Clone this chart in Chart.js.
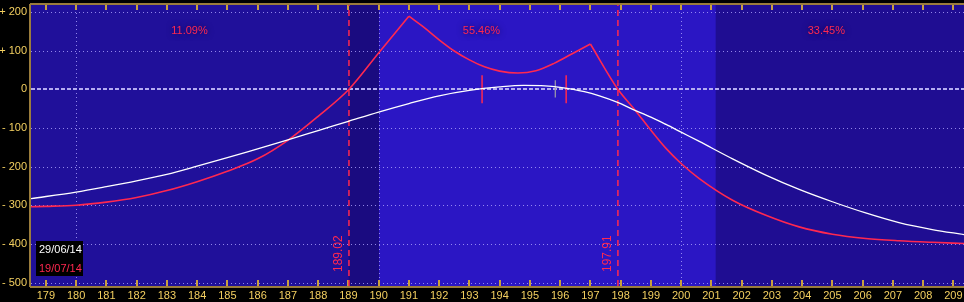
<!DOCTYPE html>
<html>
<head>
<meta charset="utf-8">
<script src="https://cdn.jsdelivr.net/npm/chart.js@4.4.1/dist/chart.umd.min.js"></script>
<style>
  html, body { margin: 0; padding: 0; background: #000; }
  #wrap { width: 964px; height: 302px; }
</style>
</head>
<body>
<div id="wrap"><canvas id="chart" width="964" height="302"></canvas></div>
<script>
// P&L at expiry (19/07/14), split at the two kinks so the peaks stay sharp
const expiryLeftPrice = [178.51, 179, 180, 181, 182, 183, 184, 185, 186, 187, 188, 189.02, 190, 191]
const expiryLeftPnl = [-304, -303, -300, -292, -280, -262, -239, -212, -180, -132, -70, 0, 94, 189]
const expiryMidPrice = [191, 191.5, 192, 192.5, 193, 193.5, 194, 194.6, 195.2, 195.8, 196.4, 197]
const expiryMidPnl = [189, 160, 128, 99, 76, 58, 47, 42, 48, 67, 92, 117]
const expiryRightPrice = [197, 197.91, 198.5, 199, 199.5, 200, 200.6, 201.7, 202.8, 203.9, 205, 206.1, 207.2, 208.3, 209.35]
const expiryRightPnl = [117, 0, -56, -106, -153, -192, -231, -287, -326, -356, -375, -386, -392, -396, -399]

// P&L today (29/06/14)
const todayPrice = [178.51, 180, 181, 182, 183, 184, 185, 186, 187, 188, 189, 190, 191, 192, 193,
  194, 194.8, 195.5, 196, 196.8, 197.3, 197.9, 198.4, 199, 199.5, 200, 200.6, 201.7, 202.8,
  203.9, 205, 206.1, 207.2, 208.3, 209.35]
const todayPnl = [-283, -266, -252, -237, -220, -199, -177, -154, -131, -107, -83, -59, -37, -17, -3,
  6, 10, 9, 5, -6, -17, -34, -52, -72, -91, -111, -135, -180, -222,
  -259, -291, -320, -345, -363, -376]

const breakevens = [189.02, 197.91]
const zoneLabels = ['11.09%', '55.46%', '33.45%']
const zoneLabelX = [183.75, 193.4, 204.8]
const shortStrikes = [193.42, 196.2]
const spotPrice = 195.84
const dateLabels = ['29/06/14', '19/07/14']

const xTicks = [179, 180, 181, 182, 183, 184, 185, 186, 187, 188, 189, 190, 191, 192, 193, 194,
  195, 196, 197, 198, 199, 200, 201, 202, 203, 204, 205, 206, 207, 208, 209]
const yTicks = [200, 100, 0, -100, -200, -300, -400, -500]
const xGridLines = [180, 190, 200]

const xMin = 178.51, xMax = 209.35, yMin = -509, yMax = 218

const RED = '#ff2850'
const GOLD = '#c8a040'

const toPoints = (xs, ys) => xs.map((x, i) => ({ x, y: ys[i] }))
const vLine = (x, lo, hi) => [{ x, y: lo }, { x, y: hi }]

// background zones: [from, to, colour]
const zones = [
  [xMin, 189.02, '#20109a'],
  [189.02, 190, '#1a0b80'],
  [190, 201.15, '#2b16c4'],
  [201.15, xMax, '#1f0d92']
]

const backdrop = {
  id: 'backdrop',
  beforeDraw(chart) {
    const { ctx, chartArea: a, scales: { x } } = chart
    ctx.save()
    ctx.fillStyle = '#000'
    ctx.fillRect(0, 0, chart.width, chart.height)
    zones.forEach(([from, to, color]) => {
      const l = x.getPixelForValue(from), r = x.getPixelForValue(to)
      ctx.fillStyle = color
      ctx.fillRect(l, a.top, r - l, a.bottom - a.top)
    })
    ctx.restore()
  },
  beforeDatasetsDraw(chart) {
    const { ctx, chartArea: a, scales: { x, y } } = chart
    ctx.save()
    ctx.lineWidth = 1
    ctx.strokeStyle = 'rgba(175,165,255,0.8)'
    ctx.setLineDash([1, 3])
    yTicks.filter(v => v !== 0).forEach(v => {
      const py = Math.round(y.getPixelForValue(v)) + 0.5
      ctx.beginPath(); ctx.moveTo(a.left, py); ctx.lineTo(a.right, py); ctx.stroke()
    })
    xGridLines.forEach(v => {
      const px = Math.round(x.getPixelForValue(v)) + 0.5
      ctx.beginPath(); ctx.moveTo(px, a.top); ctx.lineTo(px, a.bottom); ctx.stroke()
    })
    // zero line
    ctx.strokeStyle = '#b4acf0'
    ctx.lineWidth = 2
    ctx.setLineDash([4, 2])
    const y0 = Math.round(y.getPixelForValue(0))
    ctx.beginPath(); ctx.moveTo(a.left, y0); ctx.lineTo(a.right, y0); ctx.stroke()

    // frame and gold ticks
    ctx.setLineDash([])
    ctx.strokeStyle = '#9a7c3c'
    ctx.lineWidth = 2
    ctx.beginPath()
    ctx.moveTo(a.left - 1, a.top - 1); ctx.lineTo(a.right, a.top - 1)
    ctx.moveTo(a.left - 1, a.top - 1); ctx.lineTo(a.left - 1, a.bottom + 1)
    ctx.moveTo(a.left - 1, a.bottom + 1); ctx.lineTo(a.right, a.bottom + 1)
    ctx.stroke()
    ctx.strokeStyle = GOLD
    xTicks.forEach(v => {
      const px = Math.round(x.getPixelForValue(v))
      ctx.beginPath()
      ctx.moveTo(px, a.top); ctx.lineTo(px, a.top + 5)
      ctx.moveTo(px, a.bottom - 6); ctx.lineTo(px, a.bottom)
      ctx.stroke()
    })

    // zone probabilities
    ctx.font = '11px "Liberation Sans", Arial, sans-serif'
    ctx.textAlign = 'center'
    ctx.textBaseline = 'middle'
    ctx.shadowColor = '#10064a'
    ctx.shadowBlur = 6
    ctx.fillStyle = RED
    zoneLabels.forEach((t, i) => ctx.fillText(t, x.getPixelForValue(zoneLabelX[i]), y.getPixelForValue(152)))
    ctx.restore()
  },
  afterDatasetsDraw(chart) {
    const { ctx, chartArea: a, scales: { x } } = chart
    ctx.save()
    // breakeven values, rotated
    ctx.font = '12px "Liberation Sans", Arial, sans-serif'
    ctx.fillStyle = RED
    ctx.textAlign = 'left'
    ctx.textBaseline = 'middle'
    breakevens.forEach(b => {
      ctx.save()
      ctx.translate(x.getPixelForValue(b) - 10, a.bottom - 14)
      ctx.rotate(-Math.PI / 2)
      ctx.fillText(b.toFixed(2), 0, 0)
      ctx.restore()
    })
    // date legend
    ctx.fillStyle = '#000'
    ctx.fillRect(a.left + 5, a.bottom - 45, 47, 35)
    ctx.font = '11px "Liberation Sans", Arial, sans-serif'
    ctx.fillStyle = '#ffffff'
    ctx.fillText(dateLabels[0], a.left + 8, a.bottom - 36)
    ctx.fillStyle = RED
    ctx.fillText(dateLabels[1], a.left + 8, a.bottom - 17)
    ctx.restore()
  }
}

const curve = { cubicInterpolationMode: 'monotone' }
const datasets = [
  { data: toPoints(todayPrice, todayPnl), borderColor: '#ffffff', borderWidth: 1.3, ...curve },
  { data: toPoints(expiryLeftPrice, expiryLeftPnl), borderColor: RED, borderWidth: 1.6, ...curve },
  { data: toPoints(expiryMidPrice, expiryMidPnl), borderColor: RED, borderWidth: 1.6, ...curve },
  { data: toPoints(expiryRightPrice, expiryRightPnl), borderColor: RED, borderWidth: 1.6, ...curve },
  ...breakevens.map(b => ({ data: vLine(b, yMin, yMax), borderColor: RED, borderWidth: 1.5, borderDash: [6, 4] })),
  ...shortStrikes.map(s => ({ data: vLine(s, -36, 36), borderColor: RED, borderWidth: 1.5 })),
  { data: vLine(spotPrice, -21, 23), borderColor: '#a0a0a8', borderWidth: 1.2 }
].map(ds => ({ pointRadius: 0, fill: false, tension: 0, ...ds }))

new Chart(document.getElementById('chart').getContext('2d'), {
  type: 'line',
  data: { datasets },
  plugins: [backdrop],
  options: {
    responsive: false,
    animation: false,
    layout: { padding: { top: 5, left: 0, right: 0, bottom: 0 } },
    plugins: { legend: { display: false }, tooltip: { enabled: false } },
    scales: {
      x: {
        type: 'linear', min: xMin, max: xMax,
        grid: { display: false, drawTicks: false },
        border: { display: false },
        afterBuildTicks: s => { s.ticks = xTicks.map(value => ({ value })) },
        afterFit: s => { s.height = 16; s.paddingLeft = 0; s.paddingRight = 0 },
        ticks: {
          autoSkip: false, maxRotation: 0, padding: 3, color: '#f4d060',
          font: { family: '"Liberation Sans Narrow", "Liberation Sans", sans-serif', size: 11 },
          callback: v => String(v)
        }
      },
      y: {
        type: 'linear', min: yMin, max: yMax,
        grid: { display: false, drawTicks: false },
        border: { display: false },
        afterBuildTicks: s => { s.ticks = yTicks.map(value => ({ value })) },
        afterFit: s => { s.width = 31; s.paddingTop = 0; s.paddingBottom = 0 },
        ticks: {
          padding: 4, color: '#f4d060',
          font: { family: '"Liberation Sans Narrow", "Liberation Sans", sans-serif', size: 11 },
          callback: v => v > 0 ? '+ ' + v : v < 0 ? '- ' + Math.abs(v) : '0'
        }
      }
    }
  }
})
</script>
</body>
</html>
